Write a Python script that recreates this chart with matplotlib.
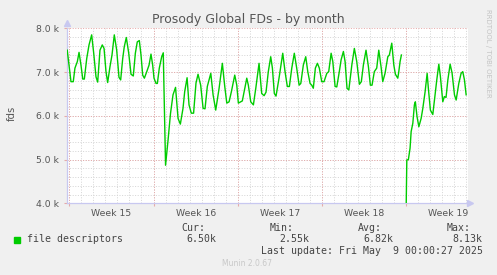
import numpy as np
import matplotlib
matplotlib.use("Agg")
import matplotlib.pyplot as plt
from matplotlib.patches import Rectangle

# time in days since the start of the graph, value in thousands of fds
days = [0.02, 0.33, 0.52, 0.66, 0.86, 1.00, 1.16, 1.31, 1.44, 1.64, 1.83, 2.05, 2.22, 2.41, 2.55,
        2.74, 2.93, 3.08, 3.24, 3.38, 3.57, 3.74, 3.93, 4.13, 4.32, 4.46, 4.63, 4.76, 4.93, 5.13,
        5.32, 5.51, 5.68, 5.84, 6.01, 6.15, 6.29, 6.43, 6.63, 6.82, 6.98, 7.12, 7.23, 7.40, 7.51,
        7.67, 7.87, 8.00, 8.19, 8.40, 8.60, 8.81, 9.02, 9.23, 9.42, 9.64, 9.78, 9.98, 10.14, 10.33,
        10.52, 10.72, 10.89, 11.11, 11.31, 11.47, 11.66, 11.95, 12.14, 12.36, 12.64, 12.91, 13.11,
        13.28, 13.47, 13.66, 13.94, 14.11, 14.24, 14.57, 14.94, 15.07, 15.27, 15.49, 15.69, 15.96,
        16.18, 16.38, 16.54, 16.73, 16.93, 17.07, 17.23, 17.37, 17.62, 17.93, 18.12, 18.31, 18.48,
        18.68, 18.89, 19.09, 19.29, 19.43, 19.64, 19.84, 20.01, 20.20, 20.34, 20.47, 20.64, 20.81,
        20.97, 21.17, 21.36, 21.59, 21.75, 21.95, 22.09, 22.28, 22.42, 22.63, 22.78, 22.97, 23.11,
        23.27, 23.42, 23.67, 23.88, 24.08, 24.30, 24.46, 24.63, 24.85, 25.05, 25.21, 25.35, 25.54,
        25.74, 25.91, 26.10, 26.24, 26.43, 26.66, 26.79, 26.99, 27.16, 27.29, 27.49, 27.57, 27.68,
        27.79, 27.95, 28.12, 28.24, 28.37, 28.51, 28.60, 28.74, 28.87, 28.95, 29.09, 29.24, 29.43,
        29.57, 29.76, 29.93, 30.03, 30.20, 30.40, 30.59, 30.73, 30.90, 31.03, 31.23, 31.36, 31.50,
        31.65, 31.84, 32.00, 32.20, 32.34, 32.56, 32.75, 32.89, 33.03, 33.17]
fds_k = [7.50, 6.78, 6.78, 7.09, 7.24, 7.45, 7.16, 6.84, 6.84, 7.31, 7.62, 7.85, 7.43, 6.89, 6.77,
         7.50, 7.62, 7.54, 7.01, 6.76, 7.12, 7.39, 7.85, 7.50, 6.88, 6.82, 7.31, 7.58, 7.79, 7.43,
         6.95, 6.91, 7.43, 7.69, 7.72, 7.39, 6.93, 6.86, 7.01, 7.16, 7.41, 7.16, 6.86, 6.74, 6.74,
         7.09, 7.35, 7.44, 4.87, 5.45, 6.05, 6.48, 6.65, 5.94, 5.81, 6.17, 6.55, 6.87, 6.25, 6.06,
         6.06, 6.75, 6.95, 6.70, 6.17, 6.16, 6.67, 6.97, 6.48, 6.13, 6.63, 7.20, 6.67,
         6.29, 6.32, 6.55, 6.93, 6.70, 6.29, 6.34, 6.86, 6.70, 6.32, 6.25, 6.63, 7.20,
         6.51, 6.46, 6.54, 7.01, 7.35, 7.09, 6.51, 6.45, 6.86, 7.43, 7.01, 6.67, 6.67,
         7.09, 7.43, 7.09, 6.70, 6.74, 7.16, 7.35, 7.01, 6.74, 6.70, 6.63, 7.09, 7.20,
         7.09, 6.78, 6.78, 6.97, 7.01, 7.43, 7.24, 6.67, 6.66, 7.01, 7.28, 7.47, 7.24,
         6.63, 6.59, 7.16, 7.54, 7.24, 6.72, 6.78, 7.16, 7.50, 7.12, 6.70, 6.70, 7.01,
         7.09, 7.50, 7.12, 6.78, 6.97, 7.35, 7.39, 7.66, 7.16, 6.95, 6.86, 7.00, 7.24,
         7.39, np.nan, 2.55, 4.99, 5.00, 5.26, 5.64, 5.83, 6.25, 6.32, 5.98, 5.75, 5.94,
         6.17, 6.55, 6.97, 6.63, 6.13, 6.03, 6.48, 6.82, 7.18, 6.90, 6.32, 6.44, 6.42,
         6.82, 7.18, 6.98, 6.48, 6.36, 6.74, 6.97, 7.01, 6.82, 6.48]

week_labels = ["Week 15", "Week 16", "Week 17", "Week 18", "Week 19"]
week_starts = [0.19, 7.19, 14.19, 21.19, 28.19]
y_ticks = [4.0, 5.0, 6.0, 7.0, 8.0]

W, H = 497, 275
fig = plt.figure(figsize=(W / 100, H / 100), dpi=100)
fig.patch.set_facecolor("#f0f0f0")

ax = fig.add_axes([67 / W, 1 - 203.3 / H, 400.7 / W, 175 / H])
ax.set_facecolor("white")
ax.set_xlim(0, 33.3)
ax.set_ylim(4.0, 8.0)

minor_c = "#d6d6d6"
major_c = "#e6aaaa"
grid_kw = dict(lw=0.72, ls=(0, (1, 1.6)))
# minor grid
for d in np.arange(week_starts[0] - 7, 33.3, 1.0):
    if d > 0:
        ax.axvline(d, color=minor_c, zorder=1, **grid_kw)
for v in np.arange(4.2, 8.0, 0.2):
    ax.axhline(v, color=minor_c, zorder=1, **grid_kw)
# major grid
for d in week_starts:
    ax.axvline(d, color=major_c, zorder=2, **grid_kw)
for v in y_ticks:
    ax.axhline(v, color=major_c, zorder=2, **grid_kw)

ax.plot(days, fds_k, color="#00cc00", lw=1.0, zorder=3)

for s in ["top", "right"]:
    ax.spines[s].set_visible(False)
for s in ["left", "bottom"]:
    ax.spines[s].set_color("#c8c8f0")
    ax.spines[s].set_linewidth(0.9)
ax.plot([0], [8.13], marker="^", ms=4, color="#c8c8f0", clip_on=False, zorder=4)
ax.plot([33.5], [4.0], marker=">", ms=4, color="#c8c8f0", clip_on=False, zorder=4)

ax.set_yticks(y_ticks)
ax.set_yticklabels(["%.1f k" % v for v in y_ticks])
ax.tick_params(axis="y", length=2, color=major_c, pad=4, labelsize=6.7, labelcolor="#555555")
ax.set_xticks(week_starts)
ax.set_xticklabels([])
ax.tick_params(axis="x", which="major", length=2, color=major_c)
ax.set_xticks([w + 3.5 for w in week_starts], minor=True)
ax.set_xticklabels(week_labels, minor=True)
ax.tick_params(axis="x", which="minor", length=0, pad=4, labelsize=6.7, labelcolor="#555555")

fig.text(248.4 / W, 1 - 19 / H, "Prosody Global FDs - by month", ha="center", va="center",
         fontsize=9, color="#555555")
fig.text(11.7 / W, 1 - 113 / H, "fds", rotation=90, ha="center", va="center",
         fontsize=7.2, color="#555555")
fig.text(487.7 / W, 1 - 53.5 / H, "RRDTOOL / TOBI OETIKER", rotation=270, ha="center",
         va="center", fontsize=5, color="#c4c4c4")

mono = dict(family="DejaVu Sans Mono", fontsize=7.1, color="#444444", va="center")
fig.patches.append(Rectangle((14 / W, 1 - 242.7 / H), 6 / W, 6 / H, color="#00cc00",
                             transform=fig.transFigure, figure=fig))
fig.text(27 / W, 1 - 239.3 / H, "file descriptors", ha="left", **mono)
for name, xl, val, xr in [("Cur:", 181, "6.50k", 216.7), ("Min:", 270, "2.55k", 309),
                          ("Avg:", 358.3, "6.82k", 393.3), ("Max:", 446.7, "8.13k", 482.7)]:
    fig.text(xl / W, 1 - 227.7 / H, name, ha="left", **mono)
    fig.text(xr / W, 1 - 239.3 / H, val, ha="right", **mono)
fig.text(482.7 / W, 1 - 251 / H, "Last update: Fri May  9 00:00:27 2025", ha="right", **mono)
fig.text(247 / W, 1 - 263.3 / H, "Munin 2.0.67", ha="center", va="center", fontsize=5.5,
         color="#c8c8c8")

fig.savefig("out.png", dpi=100, facecolor=fig.get_facecolor())
